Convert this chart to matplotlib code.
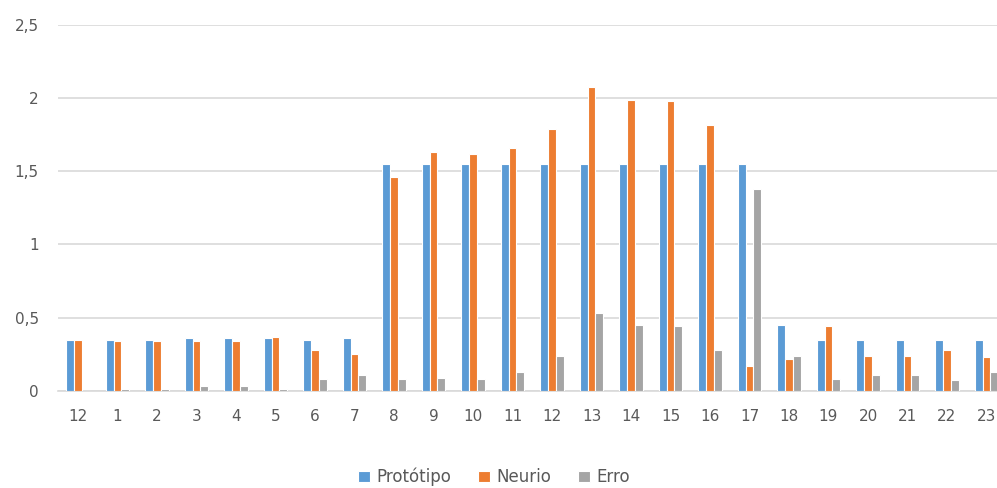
import matplotlib.pyplot as plt
import numpy as np
from matplotlib.ticker import FuncFormatter

horas = ['12', '1', '2', '3', '4', '5', '6', '7', '8', '9', '10', '11',
         '12', '13', '14', '15', '16', '17', '18', '19', '20', '21', '22', '23']
prototipo = [0.35, 0.35, 0.35, 0.36, 0.36, 0.36, 0.35, 0.36, 1.55, 1.55, 1.55, 1.55,
             1.55, 1.55, 1.55, 1.55, 1.55, 1.55, 0.45, 0.35, 0.35, 0.35, 0.35, 0.35]
neurio = [0.35, 0.34, 0.34, 0.34, 0.34, 0.37, 0.28, 0.25, 1.46, 1.63, 1.62, 1.66,
          1.79, 2.08, 1.99, 1.98, 1.82, 0.17, 0.22, 0.44, 0.24, 0.24, 0.28, 0.23]
erro = [0.0, 0.015, 0.015, 0.03, 0.03, 0.015, 0.08, 0.11, 0.08, 0.09, 0.08, 0.13,
        0.24, 0.53, 0.45, 0.44, 0.28, 1.38, 0.24, 0.08, 0.11, 0.11, 0.07, 0.13]

cores = ['#5B9BD5', '#ED7D31', '#A5A5A5']
nomes = ['Protótipo', 'Neurio', 'Erro']
texto = '#595959'

fig = plt.figure(figsize=(9.97, 4.88), dpi=100)
# the plot area runs a little past the right edge of the image
ax = fig.add_axes([58.25 / 997, 97.3 / 488, 948 / 997, 365.5 / 488])

x = np.arange(len(horas))
largura = 0.2
for i, (serie, cor, nome) in enumerate(zip([prototipo, neurio, erro], cores, nomes)):
    ax.bar(x + (i - 1) * largura, serie, largura, color=cor, label=nome,
           edgecolor='white', linewidth=0.8, zorder=3)

ax.set_xlim(-0.5, len(horas) - 0.5)
ax.set_ylim(0, 2.5)
ax.set_yticks([0, 0.5, 1, 1.5, 2, 2.5])
ax.yaxis.set_major_formatter(FuncFormatter(lambda v, p: f'{v:g}'.replace('.', ',')))
ax.set_xticks(x)
ax.set_xticklabels(horas)

ax.grid(axis='y', color='#D9D9D9', linewidth=1.2, zorder=0)
for lado in ['top', 'right', 'left']:
    ax.spines[lado].set_visible(False)
ax.spines['bottom'].set_color('#D9D9D9')
ax.spines['bottom'].set_linewidth(1.2)
ax.tick_params(axis='both', length=0, labelsize=11, labelcolor=texto)
ax.tick_params(axis='x', pad=13)
ax.tick_params(axis='y', pad=14)

fig.legend(loc='center', bbox_to_anchor=(494 / 997, 1 - 477 / 488), ncol=3,
           frameon=False, fontsize=12, labelcolor=texto, handlelength=0.7,
           handleheight=0.7, handletextpad=0.4, columnspacing=1.6,
           borderpad=0.1)

fig.savefig('out.png', dpi=100)
